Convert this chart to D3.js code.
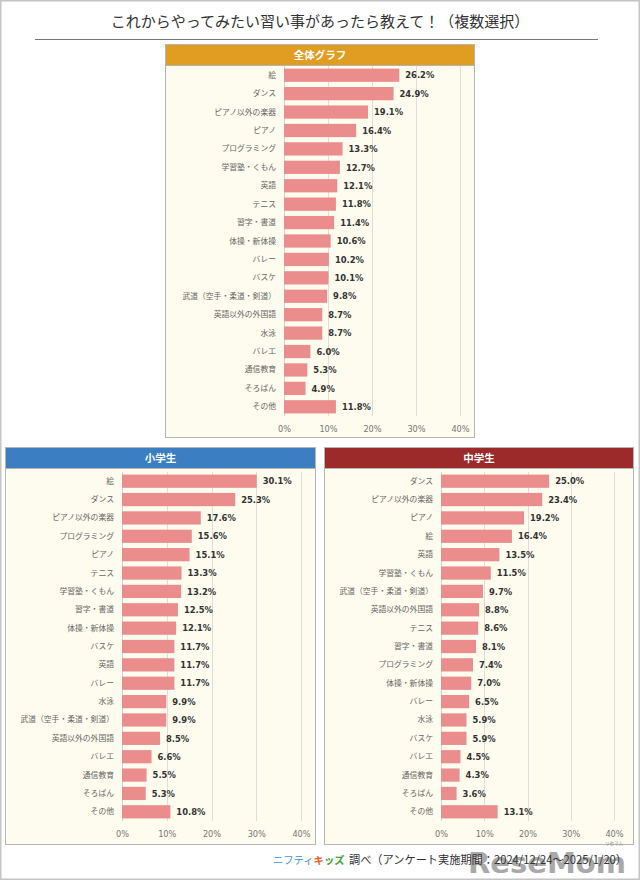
<!DOCTYPE html>
<html><head><meta charset="utf-8">
<script src="https://cdn.jsdelivr.net/npm/d3@7"></script>
<style>
html,body{margin:0;padding:0;background:#fff;}
svg{display:block;}
</style></head>
<body>
<svg id="chart" width="640" height="880"></svg>
<script>
// ---- data ----
const titleText = "これからやってみたい習い事があったら教えて！（複数選択）";
const overallTitle = "全体グラフ";
const overallCats = ["絵","ダンス","ピアノ以外の楽器","ピアノ","プログラミング","学習塾・くもん","英語","テニス","習字・書道","体操・新体操","バレー","バスケ","武道（空手・柔道・剣道）","英語以外の外国語","水泳","バレエ","通信教育","そろばん","その他"];
const overallVals = [26.2,24.9,19.1,16.4,13.3,12.7,12.1,11.8,11.4,10.6,10.2,10.1,9.8,8.7,8.7,6.0,5.3,4.9,11.8];
const elemTitle = "小学生";
const elemCats = ["絵","ダンス","ピアノ以外の楽器","プログラミング","ピアノ","テニス","学習塾・くもん","習字・書道","体操・新体操","バスケ","英語","バレー","水泳","武道（空手・柔道・剣道）","英語以外の外国語","バレエ","通信教育","そろばん","その他"];
const elemVals = [30.1,25.3,17.6,15.6,15.1,13.3,13.2,12.5,12.1,11.7,11.7,11.7,9.9,9.9,8.5,6.6,5.5,5.3,10.8];
const juniorTitle = "中学生";
const juniorCats = ["ダンス","ピアノ以外の楽器","ピアノ","絵","英語","学習塾・くもん","武道（空手・柔道・剣道）","英語以外の外国語","テニス","習字・書道","プログラミング","体操・新体操","バレー","水泳","バスケ","バレエ","通信教育","そろばん","その他"];
const juniorVals = [25.0,23.4,19.2,16.4,13.5,11.5,9.7,8.8,8.6,8.1,7.4,7.0,6.5,5.9,5.9,4.5,4.3,3.6,13.1];
const tickValues = [0,10,20,30,40];
const footerLogoA = "ニフティ";
const footerLogoB = "キ";
const footerLogoC = "ッズ";
const footerText = "調べ（アンケート実施期間：2024/12/24～2025/1/20）";

// ---- drawing ----
const JP = "'Noto Sans CJK JP','Noto Sans',sans-serif";
const NUM = "'DejaVu Sans',Verdana,sans-serif";
const svg = d3.select("#chart");

svg.append("rect").attr("x",0.75).attr("y",0.75).attr("width",638.5).attr("height",878.5)
  .attr("fill","#fff").attr("stroke","#c4c4c4").attr("stroke-width",1.5);

svg.append("text").attr("x",320).attr("y",27).attr("text-anchor","middle")
  .attr("font-family",JP).attr("font-weight",400).attr("font-size",15).attr("fill","#333").text(titleText);
svg.append("line").attr("x1",35).attr("x2",598).attr("y1",39.5).attr("y2",39.5)
  .attr("stroke","#777").attr("stroke-width",1);

function drawPanel(cats, vals, title, L){
  const g = svg.append("g");
  g.append("rect").attr("x",L.x0+0.5).attr("y",L.top+0.5).attr("width",L.x1-L.x0-1).attr("height",L.bottom-L.top-1)
    .attr("fill","#fdfcee").attr("stroke","#b5b5b5").attr("stroke-width",1);
  g.append("rect").attr("x",L.x0+0.5).attr("y",L.top+0.5).attr("width",L.x1-L.x0-1).attr("height",L.headerH)
    .attr("fill",L.color).attr("stroke","#b5b5b5").attr("stroke-width",1);
  g.append("text").attr("x",(L.x0+L.x1)/2).attr("y",L.top+L.headerH/2+4).attr("text-anchor","middle")
    .attr("font-family",JP).attr("font-weight","bold").attr("font-size",10.5).attr("fill","#fff").text(title);

  const x = d3.scaleLinear().domain([0,40]).range([L.plotLeft,L.plotRight]);
  const y = d3.scaleBand().domain(cats).range([L.rowTop,L.rowBottom]).paddingInner(0.28).paddingOuter(0.14);

  g.append("g").selectAll("line").data(tickValues).join("line")
    .attr("x1",d=>Math.round(x(d))+0.5).attr("x2",d=>Math.round(x(d))+0.5)
    .attr("y1",L.rowTop).attr("y2",L.rowBottom)
    .attr("stroke",d=>d===0?"#d0d0d0":"#dddddd").attr("stroke-width",1);

  const data = cats.map((c,i)=>({c, v: vals[i]}));
  g.append("g").selectAll("rect").data(data).join("rect")
    .attr("x",x(0)).attr("y",d=>y(d.c)).attr("width",d=>x(d.v)-x(0)).attr("height",y.bandwidth())
    .attr("fill","#ec8d8d");
  g.append("g").selectAll("text").data(data).join("text")
    .attr("x",d=>x(d.v)+6).attr("y",d=>y(d.c)+y.bandwidth()/2+3.2)
    .attr("font-family",NUM).attr("font-weight","bold").attr("font-size",8.4).attr("fill","#333")
    .text(d=>d.v.toFixed(1)+"%");

  const ya = g.append("g").attr("transform",`translate(${L.plotLeft},0)`)
    .call(d3.axisLeft(y).tickSize(0).tickPadding(8));
  ya.select(".domain").remove();
  ya.selectAll("text").attr("font-family",JP).attr("font-size",7.8).attr("fill","#666");

  const xa = g.append("g").attr("transform",`translate(0,${L.tickY})`)
    .call(d3.axisBottom(x).tickValues(tickValues).tickFormat(d=>d+"%").tickSize(0).tickPadding(0));
  xa.select(".domain").remove();
  xa.selectAll("text").attr("font-family",NUM).attr("font-size",8.2).attr("fill","#777").attr("dy","0.32em");
}

drawPanel(overallCats, overallVals, overallTitle,
  {x0:165,x1:475,top:44,headerH:21,bottom:438,plotLeft:284,plotRight:460,rowTop:66,rowBottom:416,tickY:429,color:"#e19d22"});
drawPanel(elemCats, elemVals, elemTitle,
  {x0:5,x1:316,top:447,headerH:21,bottom:845,plotLeft:122,plotRight:301,rowTop:472,rowBottom:821,tickY:834,color:"#3b7fc2"});
drawPanel(juniorCats, juniorVals, juniorTitle,
  {x0:324,x1:634,top:447,headerH:21,bottom:845,plotLeft:441,plotRight:614,rowTop:472,rowBottom:821,tickY:834,color:"#9c2a2b"});

// watermark (drawn beneath footer text)
svg.append("text").attr("x",468).attr("y",873).attr("font-family","'DejaVu Sans',sans-serif").attr("font-weight","bold")
  .attr("font-size",28).attr("fill","#555").attr("opacity",0.5).attr("textLength",158).attr("lengthAdjust","spacingAndGlyphs").text("ReseMom");
svg.append("text").attr("x",614).attr("y",845).attr("text-anchor","middle").attr("font-family",JP)
  .attr("font-size",4.5).attr("fill","#888").text("リセマム");

// footer
const logo = svg.append("text").attr("x",273).attr("y",864).attr("font-family",JP).attr("font-size",10.3);
logo.append("tspan").attr("fill","#3a93d4").text(footerLogoA);
logo.append("tspan").attr("fill","#e8602a").attr("font-weight","bold").text(footerLogoB);
logo.append("tspan").attr("fill","#3aa336").attr("font-weight","bold").text(footerLogoC);
svg.append("text").attr("x",349).attr("y",864).attr("font-family",JP).attr("font-size",11.5)
  .attr("fill","#333").attr("textLength",278).attr("lengthAdjust","spacingAndGlyphs").text(footerText);
</script>
</body></html>
